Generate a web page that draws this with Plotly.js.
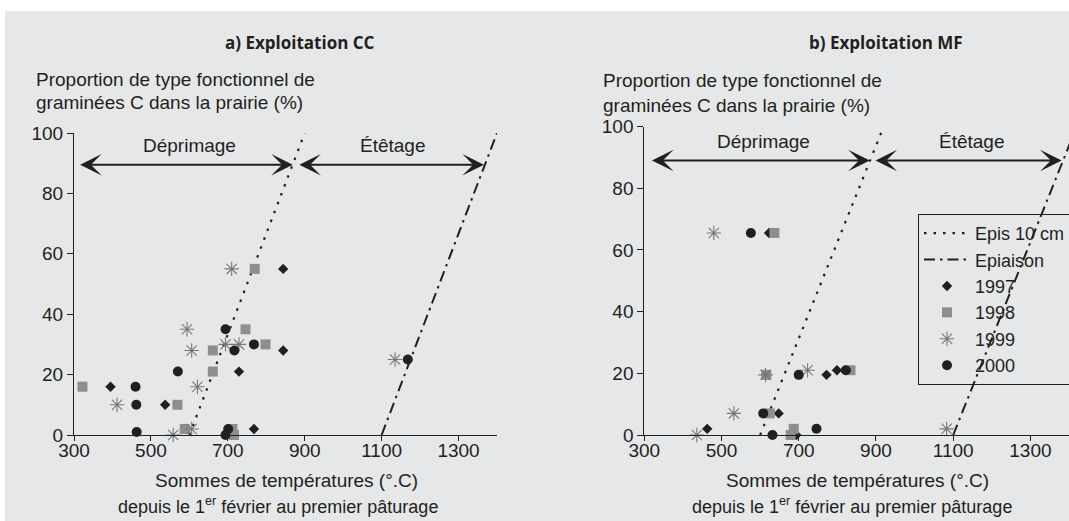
<!DOCTYPE html>
<html><head><meta charset="utf-8">
<script src="https://cdn.plot.ly/plotly-3.0.1.min.js"></script>
<style>html,body{margin:0;padding:0;background:#fff;}#chart{width:1069px;height:521px;}</style>
</head><body><div id="chart"></div>
<script>
// ---- data ----
const panelTitles = ['a) Exploitation CC', 'b) Exploitation MF'];
const seriesNames = ['Epis 10 cm', 'Epiaison', '1997', '1998', '1999', '2000'];
const xTickVals = [300, 500, 700, 900, 1100, 1300];
const yTickVals = [0, 20, 40, 60, 80, 100];
const phaseY = [0, 100];

// Exploitation CC
const cc1997X = [395, 537, 729, 844, 844, 768];
const cc1997Y = [16, 10, 21, 55, 28, 2];
const cc1998X = [322, 569, 588, 661, 661, 746, 770, 798, 712, 716];
const cc1998Y = [16, 10, 2, 28, 21, 35, 55, 30, 2, 0];
const cc1999X = [412, 558, 606, 621, 606, 594, 694, 729, 710, 1135];
const cc1999Y = [10, 0, 2, 16, 28, 35, 30, 30, 55, 25];
const cc2000X = [460, 462, 463, 570, 694, 717, 768, 701, 694, 1168];
const cc2000Y = [16, 10, 1, 21, 35, 28, 30, 2, 0, 25];
const ccEpisX = [600, 900];
const ccEpiaisonX = [1100, 1400];
const ccDeprimage = [312, 869];
const ccEtetage = [882, 1366];

// Exploitation MF
const mf1997X = [463, 648, 772, 799, 694, 623];
const mf1997Y = [2, 7, 19.5, 21, 0, 65.5];
const mf1998X = [616, 625, 679, 687, 834, 637];
const mf1998Y = [19.5, 7, 0, 2, 21, 65.5];
const mf1999X = [436, 532, 614, 723, 480, 1083];
const mf1999Y = [0, 7, 19.5, 21, 65.5, 2];
const mf2000X = [608, 632, 700, 746, 822, 576];
const mf2000Y = [7, 0, 19.5, 2, 21, 65.5];
const mfEpisX = [600, 920];
const mfEpiaisonX = [1100, 1420];
const mfDeprimage = [316, 884];
const mfEtetage = [895, 1381];

// ---- styles ----
const INK = '#231f20';
const FONT = 'Liberation Sans, Arial, sans-serif';
const W = 1069, H = 521;
const px = v => v / W, py = v => 1 - v / H;

const markerStyles = {
  '1997': {symbol: 'diamond', size: 8, color: INK},
  '1998': {symbol: 'square', size: 10, color: '#8d8e90'},
  '1999': {symbol: 'asterisk-open', size: 12, color: '#77787b', line: {color: '#77787b', width: 1.1}},
  '2000': {symbol: 'circle', size: 10, color: INK}
};

function panelTraces(xa, ya, showLeg, episX, epiaisonX, sets) {
  const tr = [];
  tr.push({x: episX, y: phaseY, xaxis: xa, yaxis: ya, mode: 'lines', name: seriesNames[0], showlegend: showLeg,
    line: {color: INK, width: 2.2, dash: '2.5px,7px'}});
  tr.push({x: epiaisonX, y: phaseY, xaxis: xa, yaxis: ya, mode: 'lines', name: seriesNames[1], showlegend: showLeg,
    line: {color: INK, width: 2, dash: '11px,5px,2.5px,5px'}});
  sets.forEach((s, i) => {
    const nm = seriesNames[i + 2];
    tr.push({x: s[0], y: s[1], xaxis: xa, yaxis: ya, mode: 'markers', name: nm, showlegend: showLeg,
      marker: markerStyles[nm], cliponaxis: false});
  });
  return tr;
}

const data = [].concat(
  panelTraces('x', 'y', false, ccEpisX, ccEpiaisonX,
    [[cc1997X, cc1997Y], [cc1998X, cc1998Y], [cc1999X, cc1999Y], [cc2000X, cc2000Y]]),
  panelTraces('x2', 'y2', true, mfEpisX, mfEpiaisonX,
    [[mf1997X, mf1997Y], [mf1998X, mf1998Y], [mf1999X, mf1999Y], [mf2000X, mf2000Y]])
);

function xAxis(domain, anchor) {
  return {domain: domain, anchor: anchor, range: [300, 1400], tickvals: xTickVals, ticks: 'outside', ticklen: 5,
    tickwidth: 1, tickcolor: INK, showline: true, linecolor: INK, linewidth: 1, showgrid: false, zeroline: false,
    tickfont: {family: FONT, size: 19, color: INK}, ticklabelstandoff: -7, fixedrange: true};
}
function yAxis(domain, anchor) {
  return {domain: domain, anchor: anchor, range: [0, 100], tickvals: yTickVals, ticks: 'outside', ticklen: 6,
    tickwidth: 1, tickcolor: INK, showline: true, linecolor: INK, linewidth: 1, showgrid: false, zeroline: false,
    tickfont: {family: FONT, size: 19, color: INK}, ticklabelstandoff: 0, fixedrange: true};
}

const txt = (x, y, text, opts) => Object.assign({xref: 'paper', yref: 'paper', x: px(x), y: py(y), text: text,
  showarrow: false, font: {family: FONT, size: 19, color: INK}, xanchor: 'left', yanchor: 'middle'}, opts || {});

function arrow(xa, ya, ext, yv) {
  return {xref: xa, yref: ya, axref: xa, ayref: ya, x: ext[1], y: yv, ax: ext[0], ay: yv, text: '',
    showarrow: true, arrowside: 'end+start', arrowhead: 3, arrowsize: 1.8, arrowwidth: 2, arrowcolor: INK,
    standoff: 0, startstandoff: 0};
}
const dataLabel = (xa, ya, x, y, t) => ({xref: xa, yref: ya, x: x, y: y, text: t, showarrow: false,
  font: {family: FONT, size: 19, color: INK}, xanchor: 'center', yanchor: 'middle'});

const titleFont = {family: 'Open Sans, sans-serif', size: 17, color: INK};
const annotations = [
  txt(300, 42, '<b>' + panelTitles[0] + '</b>', {xanchor: 'center', font: titleFont}),
  txt(886, 42, '<b>' + panelTitles[1] + '</b>', {xanchor: 'center', font: titleFont}),
  txt(34, 79, 'Proportion de type fonctionnel de'),
  txt(34, 103, 'graminées C dans la prairie (%)'),
  txt(601, 80, 'Proportion de type fonctionnel de'),
  txt(601, 105, 'graminées C dans la prairie (%)'),
  txt(286, 480, 'Sommes de températures (°.C)', {xanchor: 'center'}),
  txt(278, 505, 'depuis le 1<sup>er</sup> février au premier pâturage', {xanchor: 'center', font: {family: FONT, size: 18, color: INK}}),
  txt(857, 480, 'Sommes de températures (°.C)', {xanchor: 'center'}),
  txt(852, 505, 'depuis le 1<sup>er</sup> février au premier pâturage', {xanchor: 'center', font: {family: FONT, size: 18, color: INK}}),
  arrow('x', 'y', ccDeprimage, 89.5),
  arrow('x', 'y', ccEtetage, 89.5),
  arrow('x2', 'y2', mfDeprimage, 89),
  arrow('x2', 'y2', mfEtetage, 89),
  dataLabel('x', 'y', 600, 95.7, 'Déprimage'),
  dataLabel('x', 'y', 1129, 95.7, 'Étêtage'),
  dataLabel('x2', 'y2', 608, 95, 'Déprimage'),
  dataLabel('x2', 'y2', 1149, 95, 'Étêtage')
];

const layout = {
  width: W, height: H,
  margin: {l: 0, r: 0, t: 0, b: 0, autoexpand: false},
  paper_bgcolor: '#ffffff', plot_bgcolor: 'rgba(0,0,0,0)',
  showlegend: true,
  xaxis: xAxis([px(74), px(497)], 'y'),
  yaxis: yAxis([py(435), py(133)], 'x'),
  xaxis2: xAxis([px(644.3), 1], 'y2'),
  yaxis2: yAxis([py(435), py(126.5)], 'x2'),
  legend: {x: px(918), y: py(214), xanchor: 'left', yanchor: 'top', bgcolor: 'rgba(0,0,0,0)',
    bordercolor: INK, borderwidth: 1, font: {family: FONT, size: 18, color: INK}, itemwidth: 46,
    tracegroupgap: 0},
  shapes: [{type: 'rect', xref: 'paper', yref: 'paper', x0: px(5), x1: 1, y0: 0, y1: py(11),
    fillcolor: '#e6e7e8', line: {width: 0}, layer: 'below'}],
  annotations: annotations
};

Plotly.newPlot('chart', data, layout, {staticPlot: true, displayModeBar: false});
</script></body></html>
